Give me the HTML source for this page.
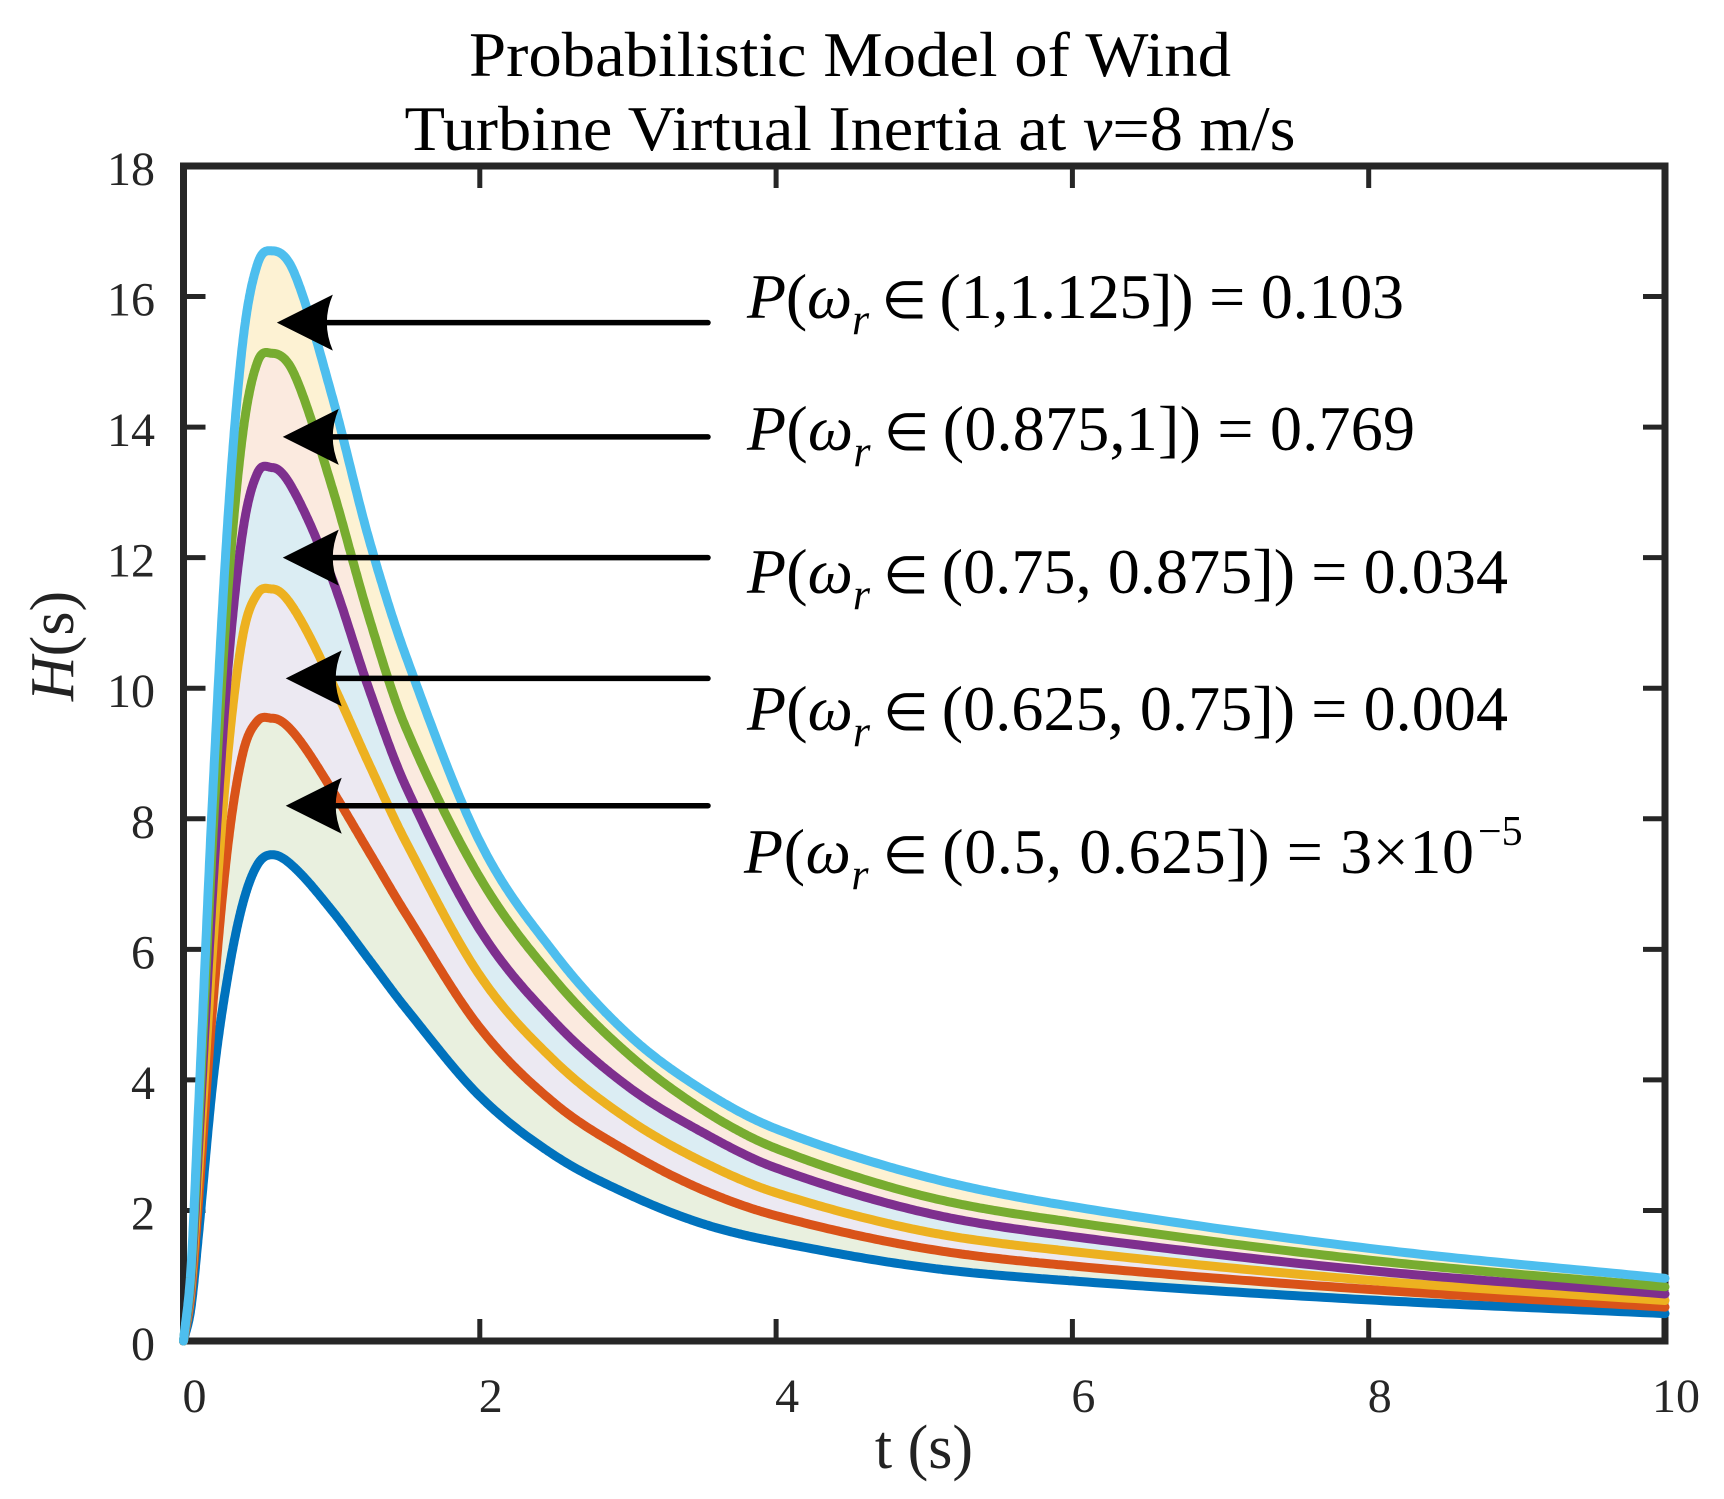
<!DOCTYPE html>
<html><head><meta charset="utf-8"><style>
html,body{margin:0;padding:0;background:#fff;}
svg{display:block;font-family:"Liberation Serif",serif;}
</style></head><body>
<svg id="chart" width="1724" height="1499" viewBox="0 0 1724 1499" xmlns="http://www.w3.org/2000/svg">
<rect width="1724" height="1499" fill="#fff"/>
<g id="title" font-size="64" fill="#000" text-anchor="middle">
<text x="850" y="76" textLength="762" lengthAdjust="spacingAndGlyphs">Probabilistic Model of Wind</text>
<text x="850" y="150" textLength="891" lengthAdjust="spacingAndGlyphs">Turbine Virtual Inertia at <tspan font-style="italic">v</tspan>=8 m/s</text>
</g>
<g id="fills"></g>
<g id="axes"></g>
<g id="lines"></g>
<g id="annot"></g>
<text x="924" y="1468" font-size="62" text-anchor="middle" fill="#222">t (s)</text>
<text transform="translate(73,646) rotate(-90)" font-size="62" text-anchor="middle" fill="#222"><tspan font-style="italic">H</tspan>(s)</text>
</svg>
<script>
const tVals = [0,0.05,0.1,0.2,0.3,0.4,0.5,0.6,0.75,1,1.25,1.5,2,2.5,3,3.5,4,5,6,8,10];
const hBlue   = [0,0.5,1.6,4.0,5.6,6.7,7.3,7.45,7.25,6.6,5.85,5.1,3.75,2.85,2.25,1.8,1.52,1.13,0.92,0.63,0.42];
const hOrange = [0,0.7,2.1,5.2,7.6,9.0,9.5,9.54,9.3,8.45,7.5,6.55,4.8,3.65,2.9,2.32,1.92,1.42,1.15,0.79,0.52];
const hYellow = [0,0.8,2.5,6.1,9.0,10.8,11.45,11.52,11.2,10.1,8.85,7.65,5.6,4.3,3.4,2.75,2.27,1.68,1.37,0.93,0.62];
const hPurple = [0,0.9,2.9,7.0,10.3,12.4,13.3,13.38,13.0,11.7,10.0,8.5,6.3,4.9,3.9,3.2,2.65,1.97,1.6,1.08,0.72];
const hGreen  = [0,1.0,3.2,7.8,11.5,13.9,15.0,15.13,14.8,13.1,11.1,9.4,7.1,5.55,4.4,3.55,2.95,2.22,1.82,1.24,0.83];
const hCyan   = [0,1.1,3.5,8.5,12.6,15.3,16.5,16.7,16.35,14.5,12.3,10.5,7.65,5.95,4.7,3.85,3.25,2.52,2.06,1.42,0.96];
const seriesNames = ["0.5-0.625","0.625-0.75","0.75-0.875","0.875-1","1-1.125"];
const xTicks = [0,2,4,6,8,10];
const yTicks = [0,2,4,6,8,10,12,14,16,18];
const arrowLevels = [15.6,13.85,12.0,10.15,8.2];
const arrowTipT = [0.63,0.67,0.67,0.69,0.69];

const NS="http://www.w3.org/2000/svg";
const X0=183.5,X1=1665,Y0=1341,Y1=166;
const xs=t=>X0+(t/10)*(X1-X0);
const ys=v=>Y0-(v/18)*(Y0-Y1);
function mk(tag,attrs,parent){const e=document.createElementNS(NS,tag);for(const k in attrs)e.setAttribute(k,attrs[k]);parent.appendChild(e);return e;}

function smooth(xv,yv){
  const n=xv.length,d=[],m=new Array(n);
  for(let i=0;i<n-1;i++)d.push((yv[i+1]-yv[i])/(xv[i+1]-xv[i]));
  m[0]=d[0];m[n-1]=d[n-2];
  for(let i=1;i<n-1;i++){
    if(d[i-1]*d[i]<=0){m[i]=0;}
    else{m[i]=(yv[i+1]-yv[i-1])/(xv[i+1]-xv[i-1]);}
  }
  const pts=[];
  for(let i=0;i<n-1;i++){const h=xv[i+1]-xv[i];const steps=40;
    for(let k=0;k<steps;k++){const s=k/steps,h00=2*s*s*s-3*s*s+1,h10=s*s*s-2*s*s+s,h01=-2*s*s*s+3*s*s,h11=s*s*s-s*s;
      const v=h00*yv[i]+h10*h*m[i]+h01*yv[i+1]+h11*h*m[i+1];pts.push([xs(xv[i]+s*h),ys(v)]);}}
  pts.push([xs(xv[n-1]),ys(yv[n-1])]);return pts;
}
const series=[hBlue,hOrange,hYellow,hPurple,hGreen,hCyan];
const colors=["#0072BD","#D95319","#EDB120","#7E2F8E","#77AC30","#4DBEEE"];
const fillCols=["#e9f0df","#ece9f2","#dbedf3","#fbeadf","#fdf2d3"];
const pts=series.map(s=>smooth(tVals,s));

const fills=document.getElementById('fills');
for(let i=0;i<5;i++){
  const lo=pts[i],hi=pts[i+1];
  const d="M"+hi.map(p=>p[0].toFixed(1)+","+p[1].toFixed(1)).join("L")+"L"+lo.slice().reverse().map(p=>p[0].toFixed(1)+","+p[1].toFixed(1)).join("L")+"Z";
  const f=mk('path',{d:d,fill:fillCols[i],stroke:'none'},fills);
  
  
}

const axes=document.getElementById('axes');
const box=mk('rect',{x:X0,y:Y1,width:X1-X0,height:Y0-Y1,fill:'none',stroke:'#262626','stroke-width':7},axes);


xTicks.forEach(t=>{
  const x=xs(t);
  mk('line',{x1:x,y1:Y0,x2:x,y2:Y0-22,stroke:'#262626','stroke-width':5},axes);
  mk('line',{x1:x,y1:Y1,x2:x,y2:Y1+22,stroke:'#262626','stroke-width':5},axes);
  const lb=mk('text',{x:x+11,y:1412,'font-size':48,'text-anchor':'middle',fill:'#262626'},axes);
  lb.textContent=t;
  
  
});
yTicks.forEach(v=>{
  const y=ys(v);
  mk('line',{x1:X0,y1:y,x2:X0+22,y2:y,stroke:'#262626','stroke-width':5},axes);
  mk('line',{x1:X1,y1:y,x2:X1-22,y2:y,stroke:'#262626','stroke-width':5},axes);
  const lb=mk('text',{x:155,y:y+19,'font-size':48,'text-anchor':'end',fill:'#262626'},axes);
  lb.textContent=v;
  
  
});

const lines=document.getElementById('lines');
pts.forEach((p,i)=>{
  const l=mk('polyline',{points:p.map(q=>q[0].toFixed(1)+","+q[1].toFixed(1)).join(" "),fill:'none',stroke:colors[i],'stroke-width':9,'stroke-linejoin':'round','stroke-linecap':'round'},lines);
  
  
});

const annot=document.getElementById('annot');
arrowLevels.forEach((v,i)=>{
  const y=ys(v),tip=xs(arrowTipT[i]);
  const ln=mk('line',{x1:tip+40,y1:y,x2:708,y2:y,stroke:'#000','stroke-width':5.5,'stroke-linecap':'round'},annot);
  
  
  const hd=mk('path',{d:`M${tip},${y} L${tip+56},${y-28} Q${tip+44},${y} ${tip+56},${y+28} Z`,fill:'#000'},annot);
  
  
});
const labelBase=[318,450,593,730,873];
const labelRange=["(1,1.125]) = 0.103","(0.875,1]) = 0.769","(0.75, 0.875]) = 0.034","(0.625, 0.75]) = 0.004","(0.5, 0.625]) = 3×10"];
const labelW=[657,668,761,761,730];
const labelX=[747,747,747,747,744];
labelRange.forEach((s,i)=>{
  const tx=mk('text',{x:labelX[i],y:labelBase[i],'font-size':64,fill:'#000',textLength:labelW[i],lengthAdjust:'spacing'},annot);
  
  
  tx.innerHTML='<tspan font-style="italic">P</tspan>(<tspan font-style="italic">ω</tspan><tspan font-style="italic" font-size="44" dy="16">r</tspan><tspan dy="-16" font-size="52"> ∈ </tspan><tspan>'+s+'</tspan>';
});
const sup=mk('text',{x:1478,y:845,'font-size':42,fill:'#000'},annot);
sup.textContent='−5';


</script>
</body></html>
